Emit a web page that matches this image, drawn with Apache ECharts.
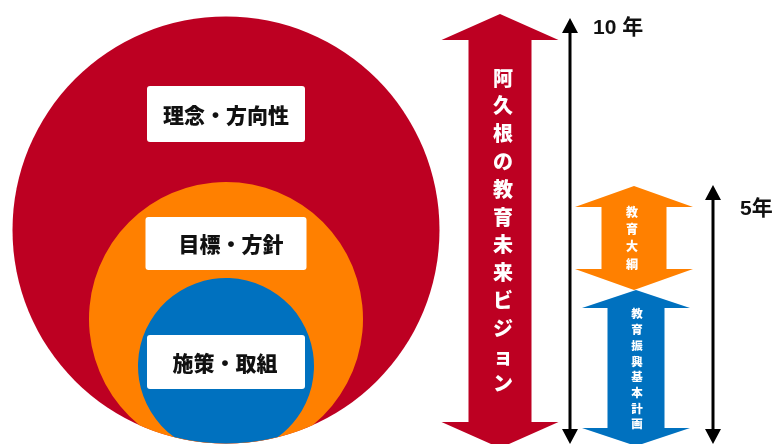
<!DOCTYPE html>
<html><head><meta charset="utf-8">
<script src="https://cdn.jsdelivr.net/npm/echarts@6/dist/echarts.min.js"></script>
<style>html,body{margin:0;padding:0;background:#fff}#c{width:775px;height:444px}</style>
</head><body><div id="c"></div>
<script>
// Concentric circles (diagram units = layout units of a hidden 775 x 444 value grid)
const circleLabels = ['理念・方向性', '目標・方針', '施策・取組'];
const circleCenterX = [226, 226, 226];
const circleCenterY = [230, 319, 366];
const circleRadius = [213.5, 137, 88];
const labelBoxY = [114, 243.5, 362];
const labelBoxW = [158, 161, 158];
const labelBoxH = [56, 53, 54];
const labelTextX = [226, 231, 225];

// Double arrows (plans)
const arrowLabels = ['阿久根の教育未来ビジョン', '教育大綱', '教育振興基本計画'];
const arrowX = [500, 634, 636];
const arrowTop = [14, 186, 290];
const arrowBottom = [448, 290, 446];
const arrowHeadHalf = [58.5, 59, 54];
const arrowShaftHalf = [31.5, 32.5, 28.5];
const arrowHeadLen = [26, 21, 18];
const arrowTextY = [231, 238, 369];
const arrowTextX = [503, 632, 637];
const arrowTextStep = [27.8, 17.3, 15.7];

// Period markers
const periodLabels = ['10 年', '5年'];
const periodX = [570, 713];
const periodTop = [18, 185];
const periodBottom = [444, 444];
const periodTextX = [593, 740];
const periodTextY = [28, 209];

const COLORS = ['#BD0022', '#FF8000', '#0071BF'];
const CJK = '"Noto Sans CJK JP", sans-serif';

const circleData = circleLabels.map((l, i) => [circleCenterX[i], circleCenterY[i], circleRadius[i], labelBoxY[i], labelBoxW[i], labelBoxH[i], labelTextX[i], i]);
const arrowData = arrowLabels.map((l, i) => [arrowX[i], arrowTop[i], arrowBottom[i], arrowHeadHalf[i], arrowShaftHalf[i], arrowHeadLen[i], arrowTextX[i], arrowTextY[i], arrowTextStep[i], i]);
const periodData = periodLabels.map((l, i) => [periodX[i], periodTop[i], periodBottom[i], periodTextX[i], periodTextY[i], i]);

const chart = echarts.init(document.getElementById('c'), null, { renderer: 'canvas' });

// circle (cx, cy, r) clipped to outer circle (same cx, oy, R)
function clippedPath(cx, cy, r, oy, R) {
  if (cy + r <= oy + R) {
    return 'M' + (cx - r) + ' ' + cy + ' A' + r + ' ' + r + ' 0 1 1 ' + (cx + r) + ' ' + cy +
      ' A' + r + ' ' + r + ' 0 1 1 ' + (cx - r) + ' ' + cy + ' Z';
  }
  const y = (oy + cy) / 2 + (R * R - r * r) / (2 * (cy - oy));
  const dx = Math.sqrt(Math.max(0, r * r - (y - cy) * (y - cy)));
  const large = y > cy ? 1 : 0;
  return 'M' + (cx - dx) + ' ' + y + ' A' + r + ' ' + r + ' 0 ' + large + ' 1 ' + (cx + dx) + ' ' + y +
    ' A' + R + ' ' + R + ' 0 0 1 ' + (cx - dx) + ' ' + y + ' Z';
}

function circleItem(params, api) {
  const i = api.value(7);
  const c = api.coord([api.value(0), api.value(1)]);
  const r = api.size([api.value(2), 0])[0];
  const oc = api.coord([circleCenterX[0], circleCenterY[0]]);
  const R = api.size([circleRadius[0], 0])[0];
  const bc = api.coord([api.value(0), api.value(3)]);
  const bs = api.size([api.value(4), api.value(5)]);
  const tc = api.coord([api.value(6), api.value(3)]);
  const shapeEl = i === 0
    ? { type: 'circle', shape: { cx: c[0], cy: c[1], r: r }, style: { fill: COLORS[i] } }
    : { type: 'path', shape: { pathData: clippedPath(c[0], c[1], r, oc[1], R) }, style: { fill: COLORS[i] } };
  return {
    type: 'group',
    children: [
      shapeEl,
      { type: 'rect', shape: { x: bc[0] - bs[0] / 2, y: bc[1] - bs[1] / 2, width: bs[0], height: bs[1], r: 3 }, style: { fill: '#fff' } },
      { type: 'text', x: tc[0], y: tc[1] + 1, style: { text: circleLabels[i], fill: '#111', font: '900 21px ' + CJK, align: 'center', verticalAlign: 'middle' } }
    ]
  };
}

function arrowItem(params, api) {
  const i = api.value(9);
  const x = api.value(0), t = api.value(1), b = api.value(2);
  const hh = api.value(3), sh = api.value(4), hl = api.value(5);
  const pts = [
    [x, t], [x + hh, t + hl], [x + sh, t + hl], [x + sh, b - hl], [x + hh, b - hl],
    [x, b], [x - hh, b - hl], [x - sh, b - hl], [x - sh, t + hl], [x - hh, t + hl]
  ].map(p => api.coord(p));
  const tp = api.coord([api.value(6), api.value(7)]);
  const step = api.size([0, api.value(8)])[1];
  const fs = i === 0 ? 20 : (i === 1 ? 12 : 11.5);
  const chars = Array.from(arrowLabels[i]);
  const children = [{ type: 'polygon', shape: { points: pts }, style: { fill: COLORS[i] } }];
  chars.forEach((ch, k) => {
    children.push({ type: 'text', x: tp[0], y: tp[1] + (k - (chars.length - 1) / 2) * step,
      style: { text: ch, fill: '#fff', font: '900 ' + fs + 'px ' + CJK, align: 'center', verticalAlign: 'middle' } });
  });
  return { type: 'group', children };
}

function periodItem(params, api) {
  const i = api.value(5);
  const top = api.coord([api.value(0), api.value(1)]);
  const bot = api.coord([api.value(0), api.value(2)]);
  const tp = api.coord([api.value(3), api.value(4)]);
  const hw = 8, hl = 15;
  return {
    type: 'group',
    children: [
      { type: 'line', shape: { x1: top[0], y1: top[1] + hl - 2, x2: bot[0], y2: bot[1] - hl + 2 }, style: { stroke: '#000', lineWidth: 3 } },
      { type: 'polygon', shape: { points: [[top[0], top[1]], [top[0] + hw, top[1] + hl], [top[0] - hw, top[1] + hl]] }, style: { fill: '#000' } },
      { type: 'polygon', shape: { points: [[bot[0], bot[1]], [bot[0] + hw, bot[1] - hl], [bot[0] - hw, bot[1] - hl]] }, style: { fill: '#000' } },
      { type: 'text', x: tp[0], y: tp[1], style: { text: periodLabels[i], fill: '#111', font: 'bold 21px "Liberation Sans", ' + CJK, align: 'left', verticalAlign: 'middle' } }
    ]
  };
}

chart.setOption({
  animation: false,
  backgroundColor: '#fff',
  grid: { left: 0, right: 0, top: 0, bottom: 0 },
  xAxis: { type: 'value', min: 0, max: 775, show: false },
  yAxis: { type: 'value', min: 0, max: 444, inverse: true, show: false },
  series: [
    { type: 'custom', renderItem: circleItem, data: circleData, clip: false, silent: true },
    { type: 'custom', renderItem: arrowItem, data: arrowData, clip: false, silent: true },
    { type: 'custom', renderItem: periodItem, data: periodData, clip: false, silent: true }
  ]
});
</script>
</body></html>
